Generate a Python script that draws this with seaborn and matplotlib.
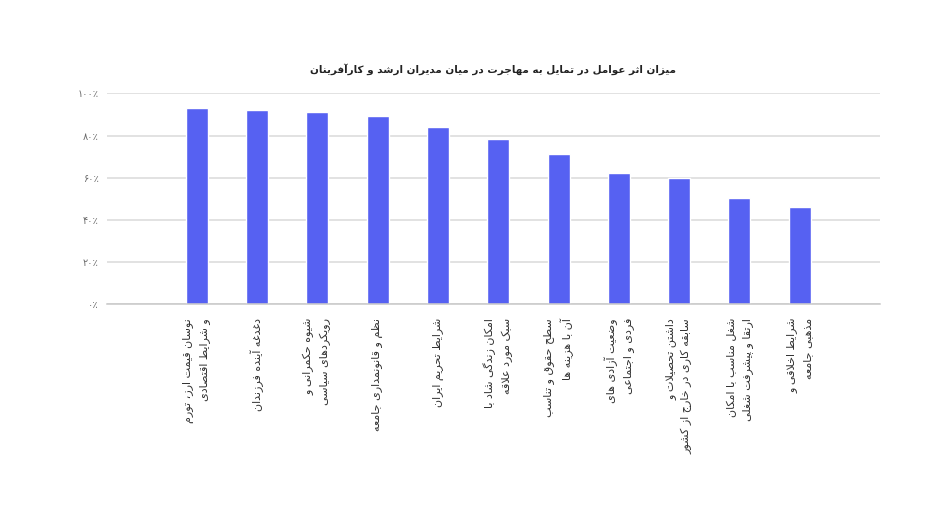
import matplotlib
matplotlib.use("Agg")
import matplotlib.pyplot as plt
import seaborn as sns
import pandas as pd

# data
factors = [
    "نوسان قیمت ارز، تورم\nو شرایط اقتصادی",
    "دغدغه آینده فرزندان",
    "شیوه حکمرانی و\nرویکردهای سیاسی",
    "نظم و قانونمداری جامعه",
    "شرایط تحریم ایران",
    "امکان زندگی شاد با\nسبک مورد علاقه",
    "سطح حقوق و تناسب\nآن با هزینه ها",
    "وضعیت آزادی های\nفردی و اجتماعی",
    "داشتن تحصیلات و\nسابقه کاری در خارج از کشور",
    "شغل مناسب با امکان\nارتقا و پیشرفت شغلی",
    "شرایط اخلاقی و\nمذهبی جامعه",
]
shares = [93.2, 92.2, 91.3, 89.4, 84.2, 78.6, 71.4, 62.4, 60.0, 50.5, 46.2]
y_ticks = [0, 20, 40, 60, 80, 100]
y_tick_labels = ["۰٪", "۲۰٪", "۴۰٪", "۶۰٪", "۸۰٪", "۱۰۰٪"]
title = "میزان اثر عوامل در تمایل به مهاجرت در میان مدیران ارشد و کارآفرینان"

# matplotlib has no arabic shaping, so map letters to presentation forms by hand
# (isolated, final, initial, medial)
FORMS = {
    "ا": ("\uFE8D", "\uFE8E"), "آ": ("\uFE81", "\uFE82"),
    "ب": ("\uFE8F", "\uFE90", "\uFE91", "\uFE92"),
    "پ": ("\uFB56", "\uFB57", "\uFB58", "\uFB59"),
    "ت": ("\uFE95", "\uFE96", "\uFE97", "\uFE98"),
    "ث": ("\uFE99", "\uFE9A", "\uFE9B", "\uFE9C"),
    "ج": ("\uFE9D", "\uFE9E", "\uFE9F", "\uFEA0"),
    "چ": ("\uFB7A", "\uFB7B", "\uFB7C", "\uFB7D"),
    "ح": ("\uFEA1", "\uFEA2", "\uFEA3", "\uFEA4"),
    "خ": ("\uFEA5", "\uFEA6", "\uFEA7", "\uFEA8"),
    "د": ("\uFEA9", "\uFEAA"), "ذ": ("\uFEAB", "\uFEAC"),
    "ر": ("\uFEAD", "\uFEAE"), "ز": ("\uFEAF", "\uFEB0"),
    "ژ": ("\uFB8A", "\uFB8B"),
    "س": ("\uFEB1", "\uFEB2", "\uFEB3", "\uFEB4"),
    "ش": ("\uFEB5", "\uFEB6", "\uFEB7", "\uFEB8"),
    "ص": ("\uFEB9", "\uFEBA", "\uFEBB", "\uFEBC"),
    "ض": ("\uFEBD", "\uFEBE", "\uFEBF", "\uFEC0"),
    "ط": ("\uFEC1", "\uFEC2", "\uFEC3", "\uFEC4"),
    "ظ": ("\uFEC5", "\uFEC6", "\uFEC7", "\uFEC8"),
    "ع": ("\uFEC9", "\uFECA", "\uFECB", "\uFECC"),
    "غ": ("\uFECD", "\uFECE", "\uFECF", "\uFED0"),
    "ف": ("\uFED1", "\uFED2", "\uFED3", "\uFED4"),
    "ق": ("\uFED5", "\uFED6", "\uFED7", "\uFED8"),
    "ک": ("\uFB8E", "\uFB8F", "\uFB90", "\uFB91"),
    "گ": ("\uFB92", "\uFB93", "\uFB94", "\uFB95"),
    "ل": ("\uFEDD", "\uFEDE", "\uFEDF", "\uFEE0"),
    "م": ("\uFEE1", "\uFEE2", "\uFEE3", "\uFEE4"),
    "ن": ("\uFEE5", "\uFEE6", "\uFEE7", "\uFEE8"),
    "و": ("\uFEED", "\uFEEE"),
    "ه": ("\uFEE9", "\uFEEA", "\uFEEB", "\uFEEC"),
    "ی": ("\uFBFC", "\uFBFD", "\uFBFE", "\uFBFF"),
}
LAM_ALEF = {"ا": ("\uFEFB", "\uFEFC"), "آ": ("\uFEF5", "\uFEF6")}


def shape_line(line):
    out = []
    i = 0
    n = len(line)
    while i < n:
        c = line[i]
        prev = line[i - 1] if i > 0 else ""
        joins_prev = prev in FORMS and len(FORMS[prev]) == 4
        if c == "ل" and i + 1 < n and line[i + 1] in LAM_ALEF:
            out.append(LAM_ALEF[line[i + 1]][1 if joins_prev else 0])
            i += 2
            continue
        if c not in FORMS:
            out.append(c)
            i += 1
            continue
        forms = FORMS[c]
        nxt = line[i + 1] if i + 1 < n else ""
        joins_next = len(forms) == 4 and nxt in FORMS
        if joins_prev and joins_next:
            out.append(forms[3])
        elif joins_prev:
            out.append(forms[1])
        elif joins_next:
            out.append(forms[2])
        else:
            out.append(forms[0])
        i += 1
    return "".join(reversed(out))


def rtl(text):
    return "\n".join(shape_line(l) for l in text.split("\n"))


sns.set_theme(style="whitegrid")
plt.rcParams["font.family"] = ["DejaVu Sans"]

df = pd.DataFrame({"factor": factors, "share": shares})

fig = plt.figure(figsize=(9.5, 5.18), dpi=100)
ax = fig.add_axes([0.1126, 0.4131, 0.8137, 0.4064])

sns.barplot(data=df, x="factor", y="share", color="#5661f2", saturation=1,
            width=0.365, ax=ax)

ax.set_ylim(0, 100)
ax.set_xlim(-1.49, 11.33)
ax.set_yticks(y_ticks)
ax.set_yticklabels(y_tick_labels, color="#6b6b6b", fontsize=7)
ax.set_xticks(range(len(factors)))
ax.set_xticklabels([rtl(f) for f in factors], rotation=90, fontsize=8,
                   color="#333333", ha="center", va="top",
                   multialignment="right", linespacing=1.6)
ax.tick_params(axis="x", length=0, pad=10)
ax.tick_params(axis="y", length=0, pad=6)
ax.set_xlabel("")
ax.set_ylabel("")

ax.grid(axis="y", color="#dadada", linewidth=1.1)
ax.grid(axis="x", visible=False)
for side in ["top", "right", "left"]:
    ax.spines[side].set_visible(False)
ax.spines["bottom"].set_color("#c8c8c8")
ax.spines["bottom"].set_linewidth(1.1)
ax.set_axisbelow(True)

ax.set_title(rtl(title), fontsize=7.5, fontweight="bold", color="#222222", pad=15)

fig.savefig("out.png", dpi=100, facecolor="white")
